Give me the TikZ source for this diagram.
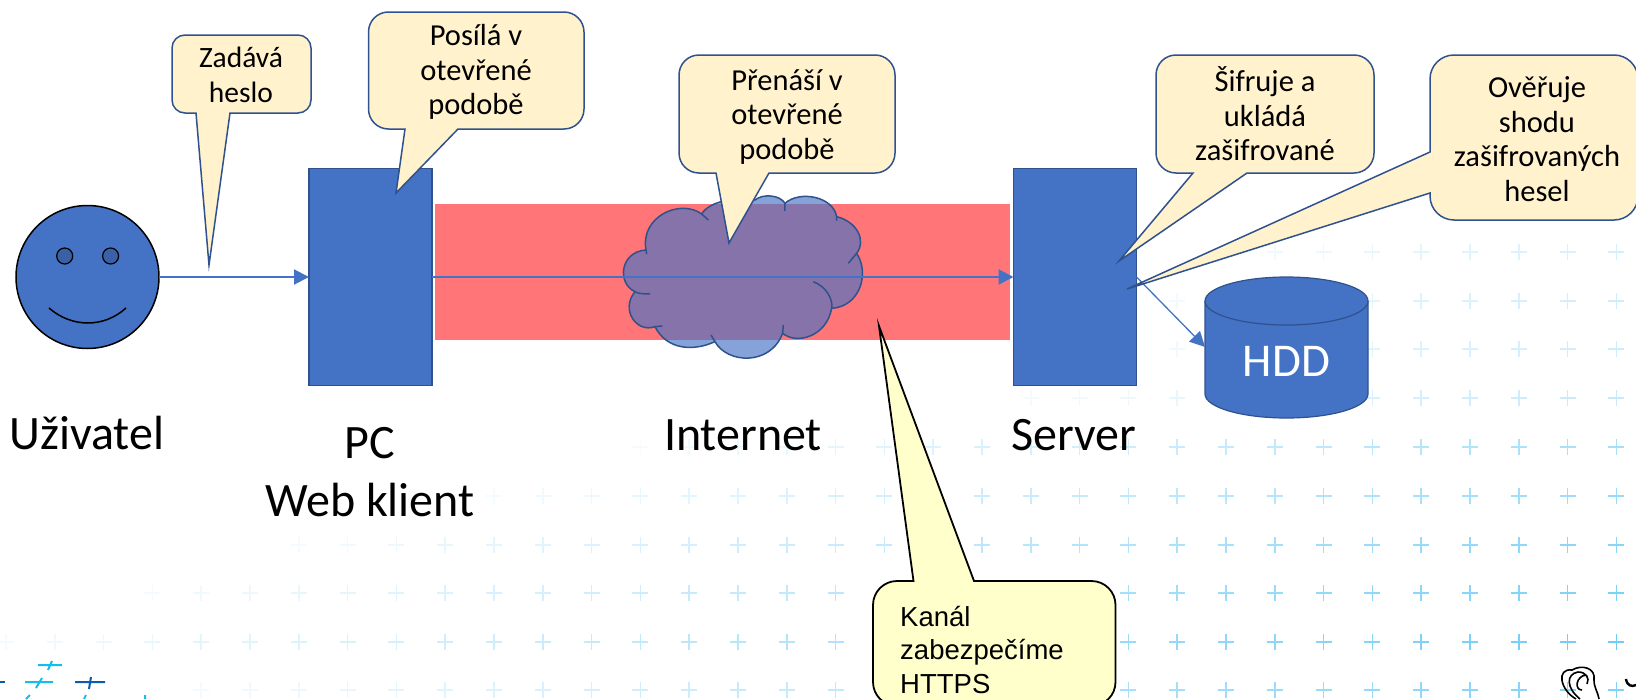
\documentclass[tikz,border=0pt]{standalone}
\usepackage{fontspec}
\setmainfont{Carlito}
\newfontfamily\arialfont{Liberation Sans}
\usetikzlibrary{shapes.geometric,arrows.meta}
\definecolor{boxblue}{HTML}{4472C4}
\definecolor{edgeblue}{HTML}{2F528F}
\definecolor{bubblefill}{HTML}{FFF2CC}
\definecolor{notefill}{HTML}{FFFFCC}
\definecolor{channelred}{HTML}{FF7578}
\definecolor{plusblue}{HTML}{6CCBF7}
\definecolor{logocyan}{HTML}{14BDEB}
\definecolor{logoblue}{HTML}{0A5CAD}
\tikzset{
  blockbox/.style={draw=edgeblue,fill=boxblue,line width=1.2pt,minimum width=123pt,minimum height=217pt,inner sep=0pt,outer sep=0pt},
  bubble/.style={draw=edgeblue,fill=bubblefill,line width=1.5pt},
  bubbletext/.style={font=\fontsize{30.5}{34.5}\selectfont,align=center,inner sep=0pt},
  bigtext/.style={font=\fontsize{48}{58}\selectfont,align=center,inner sep=0pt},
  link/.style={draw=boxblue,line width=2pt,-{Triangle[length=15pt,width=15pt]}},
  plusmark/.style={line width=1.7pt},
  logomark/.style={line width=2pt}
}
\begin{document}
\begin{tikzpicture}[x=1pt,y=-1pt]
\useasboundingbox (0,0) rectangle (1636,699);

%background crosses
\foreach \yy/\xs in {252/1200,301/1130,349/1100,398/1000,447/620,496/470,545/270,593/120,642/-20,690/170}{
  \foreach \k in {0,...,33}{
    \pgfmathsetmacro{\xx}{6+48.8*\k}
    \pgfmathsetmacro{\tint}{max(0,min(100,6+(\xx-\xs)/18))}
    \ifdim\xx pt>\xs pt
      \draw[plusmark,plusblue!\tint!white] (\xx-8,\yy) -- (\xx+8,\yy) (\xx,\yy-8) -- (\xx,\yy+8);
    \fi
  }
}

%logo corners
\draw[logomark,logocyan] (38,665) -- (62,665) (52,661) -- (48,670);
\draw[logomark,logocyan] (25,682) -- (53,682) (42,678) -- (36,688);
\draw[logomark,logoblue] (75,682) -- (105,682) (91,677) -- (89,689);
\draw[logomark,logoblue] (0,682) -- (5,682);
\draw[logomark,logocyan] (30,695) -- (26,699) (86,695) -- (84,699) (145,695) -- (145,699);
\draw[black,line width=1.6pt] (1576,699) .. controls (1560,690) and (1556,668) .. (1572,670) .. controls (1582,664) and (1596,668) .. (1594,680) .. controls (1594,688) and (1598,692) .. (1599,699)
  (1580,699) .. controls (1566,688) and (1566,674) .. (1578,672) .. controls (1586,672) and (1590,678) .. (1587,684)
  (1582,690) .. controls (1574,690) and (1576,676) .. (1586,675);
\draw[black,line width=2.4pt] (1626,679) .. controls (1627,686) and (1632,687) .. (1636,685);

%channel and cloud
\fill[channelred] (435,204) rectangle (1010,340);
\begin{scope}[shift={(600,30)},x=0.3333pt,y=-0.3333pt]
\draw[edgeblue,line width=1.5pt,fill=boxblue,fill opacity=0.65] (105,785) .. controls (50,760) and (60,665) .. (138,660)
  .. controls (120,560) and (240,505) .. (305,552)
  .. controls (330,510) and (420,500) .. (465,510)
  .. controls (490,490) and (540,495) .. (555,520)
  .. controls (600,480) and (700,500) .. (710,560)
  .. controls (770,575) and (800,630) .. (770,670)
  .. controls (810,730) and (780,830) .. (695,835)
  .. controls (680,920) and (590,945) .. (548,910)
  .. controls (510,1010) and (380,1000) .. (345,935)
  .. controls (280,965) and (200,960) .. (165,890)
  .. controls (110,910) and (60,840) .. (105,785) -- cycle;
%inner folds of the cloud
\draw[edgeblue,line width=1.5pt] (150,792) .. controls (125,792) and (112,790) .. (105,785)
  (140,672) -- (138,660)
  (305,552) -- (325,570)
  (555,520) -- (555,543)
  (710,560) -- (710,572)
  (770,670) -- (745,700)
  (640,755) .. controls (680,770) and (700,810) .. (695,835)
  (548,910) -- (550,885)
  (345,935) -- (333,915)
  (165,890) -- (187,888);
\end{scope}

%main blocks
\node[ellipse,draw=black,fill=boxblue,line width=1.5pt,minimum width=143pt,minimum height=143pt,inner sep=0pt,outer sep=0pt] (face) at (87.5,277) {};
\node[blockbox] (pc) at (370.5,277) {};
\node[blockbox] (server) at (1075,277) {};

%disk
\draw[edgeblue,fill=boxblue,line width=1.2pt] (1205,301) -- (1205,394) .. controls (1205,407.3) and (1241.5,418) .. (1286.5,418) .. controls (1331.5,418) and (1368,407.3) .. (1368,394) -- (1368,301) .. controls (1368,287.7) and (1331.5,277) .. (1286.5,277) .. controls (1241.5,277) and (1205,287.7) .. (1205,301) -- cycle;
\draw[edgeblue,line width=1.2pt] (1205,301) .. controls (1205,314.3) and (1241.5,325) .. (1286.5,325) .. controls (1331.5,325) and (1368,314.3) .. (1368,301);
\node[text=white,inner sep=0pt,font=\fontsize{47}{47}\selectfont] (hdd) at (1286.5,361) {HDD};
\coordinate (hddIn) at (1205,347);

%face details
\draw[black,fill=boxblue!85!black,line width=1.2pt] (64.7,256) circle (8);
\draw[black,fill=boxblue!85!black,line width=1.2pt] (110.6,256) circle (8);
\draw[black,line width=1.5pt] (49,308) .. controls (72,328) and (104,328) .. (126,308);

%connectors
\draw[link] (face.east) -- (pc.west);
\draw[link] (pc.east) -- (server.west);
\draw[link,line width=1.3pt] (server.east) -- (hddIn);

%callouts
\draw[bubble] (240,35) [rounded corners=13] -- (311,35) -- (311,113) [sharp corners] -- (230,113) -- (209,265) -- (196,113) [rounded corners=13] -- (172,113) -- (172,35) -- cycle;
\draw[bubble] (476,12) [rounded corners=20] -- (584,12) -- (584,129) [sharp corners] -- (458,129) -- (396,193) -- (405,129) [rounded corners=20] -- (368.5,129) -- (368.5,12) -- cycle;
\draw[bubble] (787,55) [rounded corners=20] -- (895,55) -- (895,173) [sharp corners] -- (769,173) -- (729,243) -- (716,173) [rounded corners=20] -- (679,173) -- (679,55) -- cycle;
\draw[bubble] (1265,55) [rounded corners=20] -- (1374,55) -- (1374,173) [sharp corners] -- (1247,173) -- (1119,261) -- (1193,173) [rounded corners=20] -- (1156,173) -- (1156,55) -- cycle;
\draw[bubble] (1535,55) [rounded corners=24] -- (1638,55) -- (1638,220) -- (1430,220) [sharp corners] -- (1430,193) -- (1127,289) -- (1430,152) [rounded corners=24] -- (1430,55) -- cycle;
\draw[black,fill=notefill,line width=1.8pt] (990,581) [rounded corners=24] -- (1115.5,581) -- (1115.5,706) -- (873,706) -- (873,581) [sharp corners] -- (913.5,581) -- (879,326) -- (974,581) -- cycle;

%callout texts
\node[bubbletext,font=\fontsize{29.5}{34.5}\selectfont] (tHeslo) at (241,75) {Zadává\\heslo};
\node[bubbletext] (tPosila) at (476,72) {Posílá v\\otevřené\\podobě};
\node[bubbletext] (tPrenasi) at (787,117) {Přenáší v\\otevřené\\podobě};
\node[bubbletext] (tSifruje) at (1265,114) {Šifruje a\\ukládá\\zašifrované};
\node[bubbletext] (tOveruje) at (1537,139) {Ověřuje\\shodu\\zašifrovaných\\hesel};
\node[font=\arialfont\fontsize{27.5}{33.5}\selectfont,align=left,inner sep=0pt] (tKanal) at (982,650) {Kanál\\zabezpečíme\\HTTPS};

%labels
\node[bigtext] (lUser) at (87,433) {Uživatel};
\node[bigtext] (lPC) at (370,472) {PC\\Web klient};
\node[bigtext] (lNet) at (743,435) {Internet};
\node[bigtext] (lServer) at (1074,435) {Server};
\end{tikzpicture}
\end{document}
